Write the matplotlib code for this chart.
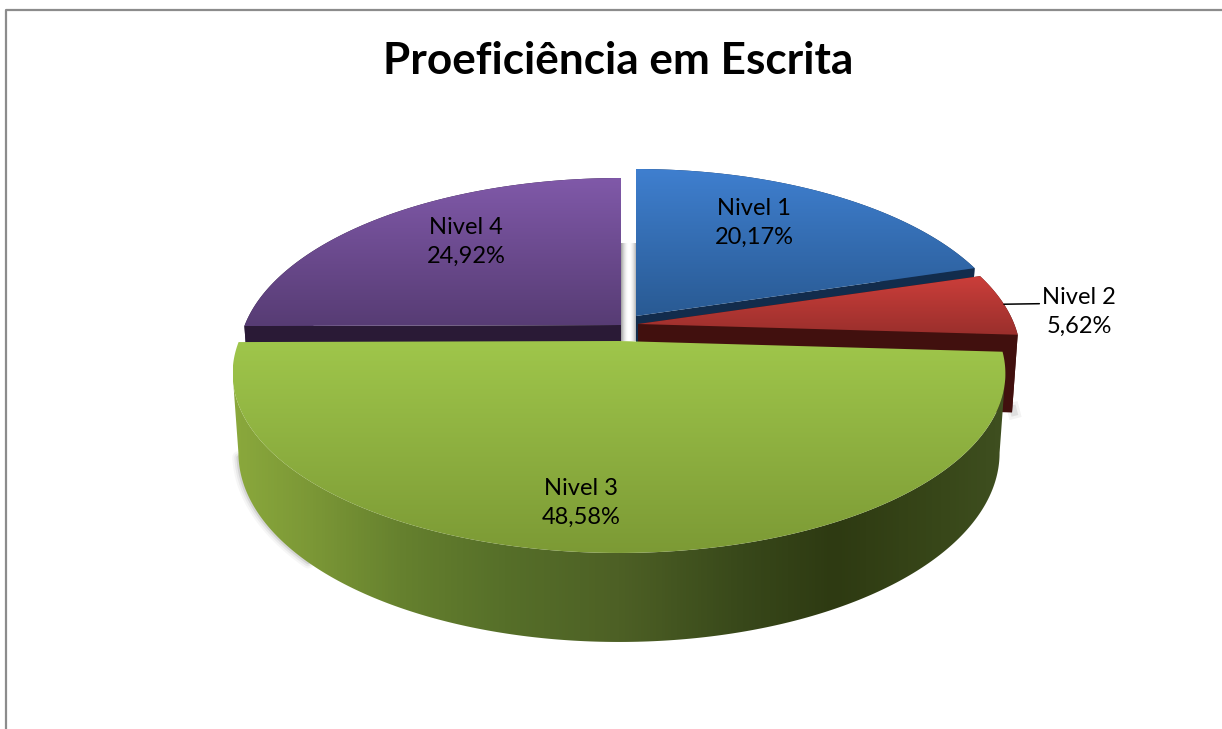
#!/usr/bin/env python3
# -*- coding: utf-8 -*-

import matplotlib
matplotlib.use('Agg')
import matplotlib.pyplot as plt
import numpy as np
from matplotlib.colors import LinearSegmentedColormap
from matplotlib.patches import Polygon

# Data
categories = ['Nivel 1', 'Nivel 2', 'Nivel 3', 'Nivel 4']
values = [20.17, 5.62, 48.58, 24.92]
title = 'Proeficiência em Escrita'

# Apex of each exploded slice, in pixels
centers = [(636, 316), (638, 324), (619, 341), (621, 325)]
x_scale = [0.98, 0.99, 1.0, 0.99]
top_colors = [('#3f7fcf', '#295a93'), ('#cb3e3a', '#9a2f2c'),
              ('#9fc64b', '#7c9a35'), ('#8059a9', '#573c74')]
face_colors = ['#122c4c', '#41100e', '#3c4a1e', '#2a1a36']
wall_colors = ['#16335a', '#4a1210', '#3c4a1e', '#2f1d3d']
label_pos = [(754, 223), (1079, 312), (581, 503), (466, 242)]

# Projection of the tilted disc
R = 380.0
S = 173.6
K = 0.181
SHRINK = 0.985


def project(theta, center, sx=1.0):
    u, v = np.cos(theta), np.sin(theta)
    w = 1 + K * v
    return center[0] + sx * R * u / w, center[1] - S * v / w


def project_bottom(theta, center, sx=1.0):
    x, y = project(theta, center, sx)
    return center[0] + SHRINK * (x - center[0]), y + 77 - 12 * np.sin(theta)


def gradient_fill(ax, verts, data, cmap, extent, zorder):
    patch = Polygon(verts, closed=True, transform=ax.transData, fc='none', ec='none')
    ax.add_patch(patch)
    im = ax.imshow(data, cmap=cmap, extent=extent, aspect='auto', zorder=zorder,
                   vmin=0, vmax=1, interpolation='bilinear')
    im.set_clip_path(patch)


def vertical_fill(ax, verts, colors, zorder):
    cmap = LinearSegmentedColormap.from_list('v', colors)
    x0, x1 = verts[:, 0].min(), verts[:, 0].max()
    y0, y1 = verts[:, 1].min(), verts[:, 1].max()
    data = np.linspace(0, 1, 256).reshape(-1, 1)
    gradient_fill(ax, verts, data, cmap, (x0, x1, y1, y0), zorder)


fig = plt.figure(figsize=(12.22, 7.29), dpi=100)
ax = fig.add_axes([0, 0, 1, 1])
ax.set_xlim(0, 1222)
ax.set_ylim(729, 0)
ax.set_autoscale_on(False)
ax.axis('off')

# Chart frame
ax.plot([6, 6, 1222], [729, 10, 10], color='#8c8c8c', lw=1.6, zorder=1)

# Slice angles, clockwise from twelve o'clock
fractions = np.array(values) / np.sum(values)
ends = np.pi / 2 - 2 * np.pi * np.cumsum(fractions)
starts = np.concatenate(([np.pi / 2], ends[:-1]))

# Soft shadows
shadow = np.zeros((1, 64, 4))
shadow[0, :, 3] = np.abs(np.linspace(-1, 1, 64)) ** 2 * 0.38
ax.imshow(shadow, extent=(621, 637, 341, 243), aspect='auto', zorder=2)
th_left = np.linspace(ends[2] + 0.2, ends[2] + 0.75, 60)
px, py = project_bottom(th_left, centers[2])
for lw, al in [(9, 0.05), (6, 0.08), (3, 0.14)]:
    ax.plot(px, py, color='#555555', lw=lw, alpha=al, zorder=2, solid_capstyle='round')
th_red = np.array([ends[1], ends[1] + 0.02])
px, py = project_bottom(th_red, centers[1], x_scale[1])
for lw, al in [(9, 0.07), (5, 0.12)]:
    ax.plot(px + 2, py, color='#555555', lw=lw, alpha=al, zorder=2)

wall_cmap = LinearSegmentedColormap.from_list('wall', [
    (0.00, '#8aa83c'), (0.10, '#7b9736'), (0.22, '#65802e'), (0.35, '#566f29'),
    (0.50, '#4d6025'), (0.66, '#38481a'), (0.78, '#2e3a12'), (0.92, '#384719'),
    (1.00, '#3f4f20')])

# Back to front: purple, blue, red, green
zorder = 3
for i in [3, 0, 1, 2]:
    c = centers[i]
    sx = x_scale[i]
    theta = np.linspace(starts[i], ends[i], 240)
    tx, ty = project(theta, c, sx)
    top_arc = np.column_stack((tx, ty))

    if i == 2:
        # near wall runs between the widest points of the disc
        widest = np.arcsin(K)
        theta_w = np.linspace(-widest, widest - np.pi, 240)
        wx, wy = project(theta_w, c, sx)
        bx, by = project_bottom(theta_w, c, sx)
        wall = np.vstack((np.column_stack((wx, wy)), np.column_stack((bx, by))[::-1]))
        data = np.linspace(0, 1, 256).reshape(1, -1)
        gradient_fill(ax, wall, data, wall_cmap,
                      (wall[:, 0].min(), wall[:, 0].max(), wall[:, 1].max(), wall[:, 1].min()), zorder)
    else:
        bx, by = project_bottom(theta, c, sx)
        wall = np.vstack((top_arc, np.column_stack((bx, by))[::-1]))
        ax.add_patch(Polygon(wall, closed=True, fc=wall_colors[i], ec='none', zorder=zorder))
        # radial faces
        apex_low = c[1] + 77
        for t_edge in (theta[0], theta[-1]):
            ex, ey = project(t_edge, c, sx)
            fx, fy = project_bottom(t_edge, c, sx)
            face = [(c[0], c[1]), (ex, ey), (fx, fy), (c[0], apex_low)]
            ax.add_patch(Polygon(face, closed=True, fc=face_colors[i], ec='none', zorder=zorder + 0.1))
    verts = np.vstack(([c], top_arc))
    vertical_fill(ax, verts, top_colors[i], zorder + 0.2)
    zorder += 1

# Labels
for i, name in enumerate(categories):
    txt = name + '\n' + f'{values[i]:.2f}'.replace('.', ',') + '%'
    if i != 1:
        ax.text(label_pos[i][0], label_pos[i][1], txt, ha='center', va='center',
                family='Lato', fontsize=17, color='black', linespacing=1.42, zorder=20)

# Outside label with its leader line
mid = (starts[1] + ends[1]) / 2
ax.annotate(categories[1] + '\n' + f'{values[1]:.2f}'.replace('.', ',') + '%',
            xy=project(mid, centers[1], x_scale[1]), xytext=label_pos[1], ha='center', va='center',
            family='Lato', fontsize=17, color='black', linespacing=1.42, zorder=20,
            arrowprops=dict(arrowstyle='-', color='black', lw=1.1, shrinkA=0, shrinkB=0,
                            relpos=(0.0, 0.67)))

ax.text(618, 61, title, ha='center', va='center', family='Lato', fontsize=31.8,
        fontweight='bold', color='black', zorder=20)

fig.savefig('out.png', dpi=100)
